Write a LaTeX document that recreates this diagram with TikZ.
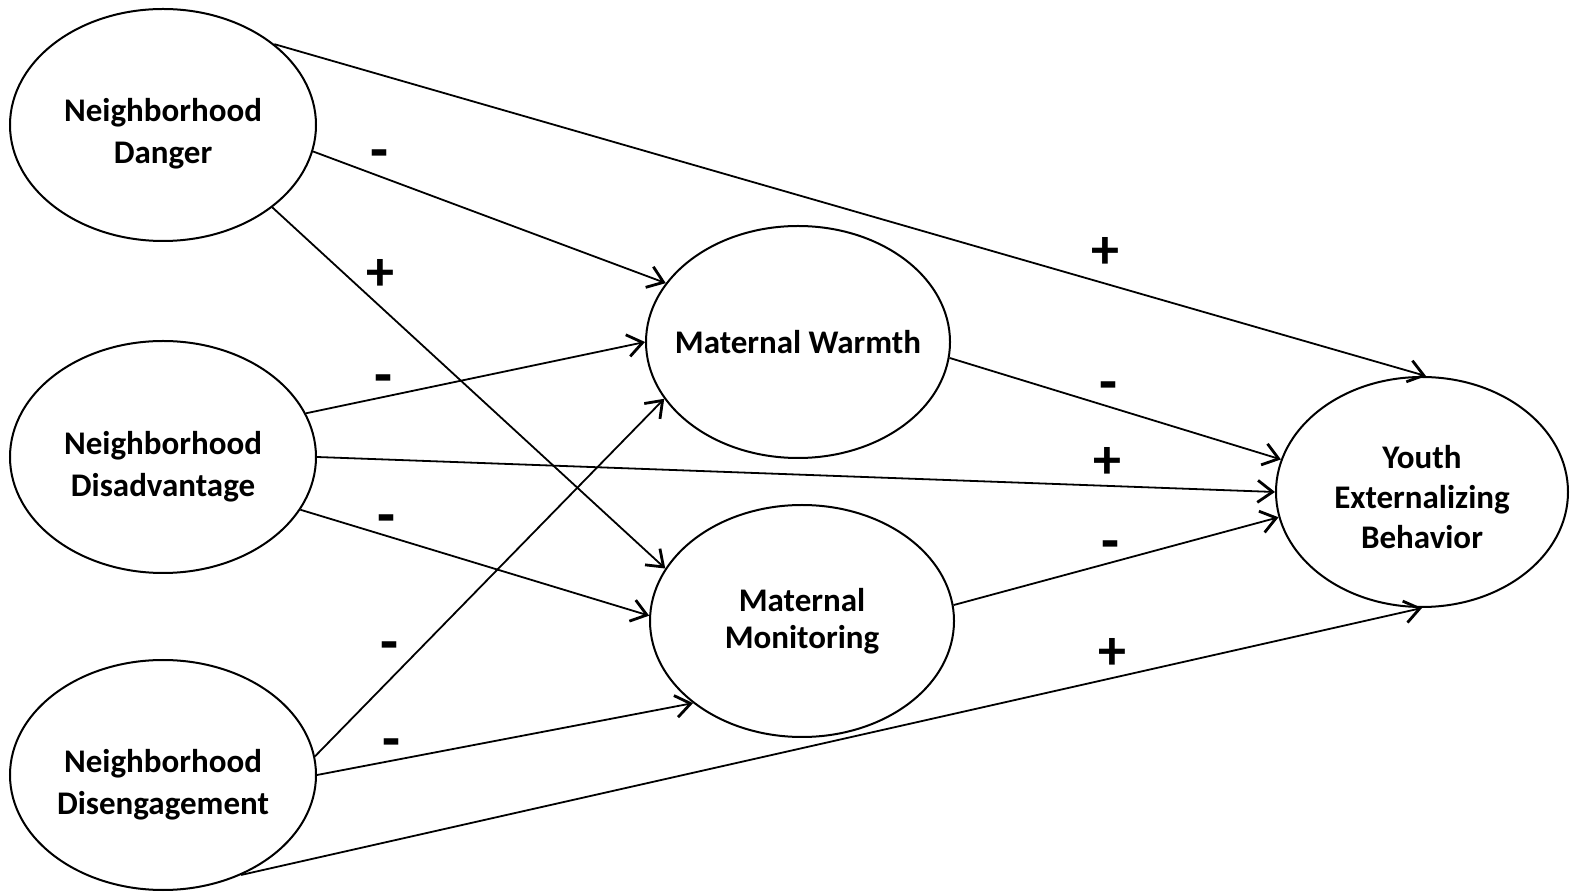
\documentclass[tikz,border=0pt]{standalone}
\usepackage{fontspec}
\usepackage{graphicx}
\setmainfont{Carlito}
\usetikzlibrary{shapes.geometric,arrows.meta}
\newcommand{\minussign}{\scalebox{1.05}[1.1]{-}}
\begin{document}
\begin{tikzpicture}[x=0.5pt,y=-0.5pt,
  latent/.style={draw,ellipse,line width=1pt,inner sep=0pt},
  caption/.style={align=center,inner sep=0pt,
    font=\fontsize{16.5}{21}\selectfont\bfseries},
  path/.style={line width=0.9pt,-{Straight Barb[length=7.5pt,width=11pt,line width=1.4pt]}},
  sign/.style={font=\fontsize{28}{28}\selectfont\bfseries,inner sep=0pt,
    text height=0.6em,text depth=0pt}]
\useasboundingbox (0,0) rectangle (1570,892);
\fill[white] (0,0) rectangle (1570,892);

% exogenous neighborhood factors
\node[latent,minimum width=153pt,minimum height=116pt] (dan) at (163,125) {};
\node[latent,minimum width=153pt,minimum height=116pt] (dis) at (163,457) {};
\node[latent,minimum width=153pt,minimum height=115pt] (eng) at (163,775) {};
\node[caption,yshift=-4.25pt] (dantxt) at (dan) {Neighborhood\\Danger};
\node[caption,yshift=-5pt] (distxt) at (dis) {Neighborhood\\Disadvantage};
\node[caption,yshift=-4.75pt] (engtxt) at (eng) {Neighborhood\\Disengagement};

% parenting mediators
\node[latent,minimum width=152pt,minimum height=116pt] (warm) at (798,342) {};
\node[latent,minimum width=152pt,minimum height=116pt] (mon) at (802,621) {};
\node[caption] (warmtxt) at (warm) {Maternal Warmth};
\node[caption,font=\fontsize{16.5}{18.5}\selectfont\bfseries] (montxt) at (mon) {Maternal\\Monitoring};

% outcome
\node[latent,minimum width=146pt,minimum height=115pt] (yeb) at (1422,492) {};
\node[caption,yshift=-2.5pt,font=\fontsize{16.5}{20}\selectfont\bfseries] (yebtxt) at (yeb) {Youth\\Externalizing\\Behavior};

% structural paths
\draw[path] (dan.36) -- (yeb.88);
\draw[path] (dan.-10) -- (warm.156);
\draw[path] (dan.-37) -- (mon.159);
\draw[path] (dis.17) -- (warm.180);
\draw[path] (dis.0) -- (yeb.180);
\draw[path] (dis.-21) -- (mon.178);
\draw[path] (eng.7) -- (warm.203);
\draw[path] (eng.0) -- (mon.217);
\draw[path] (eng.-52) -- (yeb.-90);
\draw[path] (warm.-6) -- (yeb.167);
\draw[path] (mon.6) -- (yeb.190);

% path signs
\node[sign] (s1) at (379,165) {\minussign};
\node[sign] (s2) at (380,285) {+};
\node[sign] (s3) at (1105,263) {+};
\node[sign] (s4) at (383,390) {\minussign};
\node[sign] (s5) at (386,530) {\minussign};
\node[sign] (s6) at (1107,473) {+};
\node[sign] (s7) at (1108,397) {\minussign};
\node[sign] (s8) at (1110,556) {\minussign};
\node[sign] (s9) at (1112,664) {+};
\node[sign] (s10) at (389,657) {\minussign};
\node[sign] (s11) at (391,754) {\minussign};
\end{tikzpicture}
\end{document}
